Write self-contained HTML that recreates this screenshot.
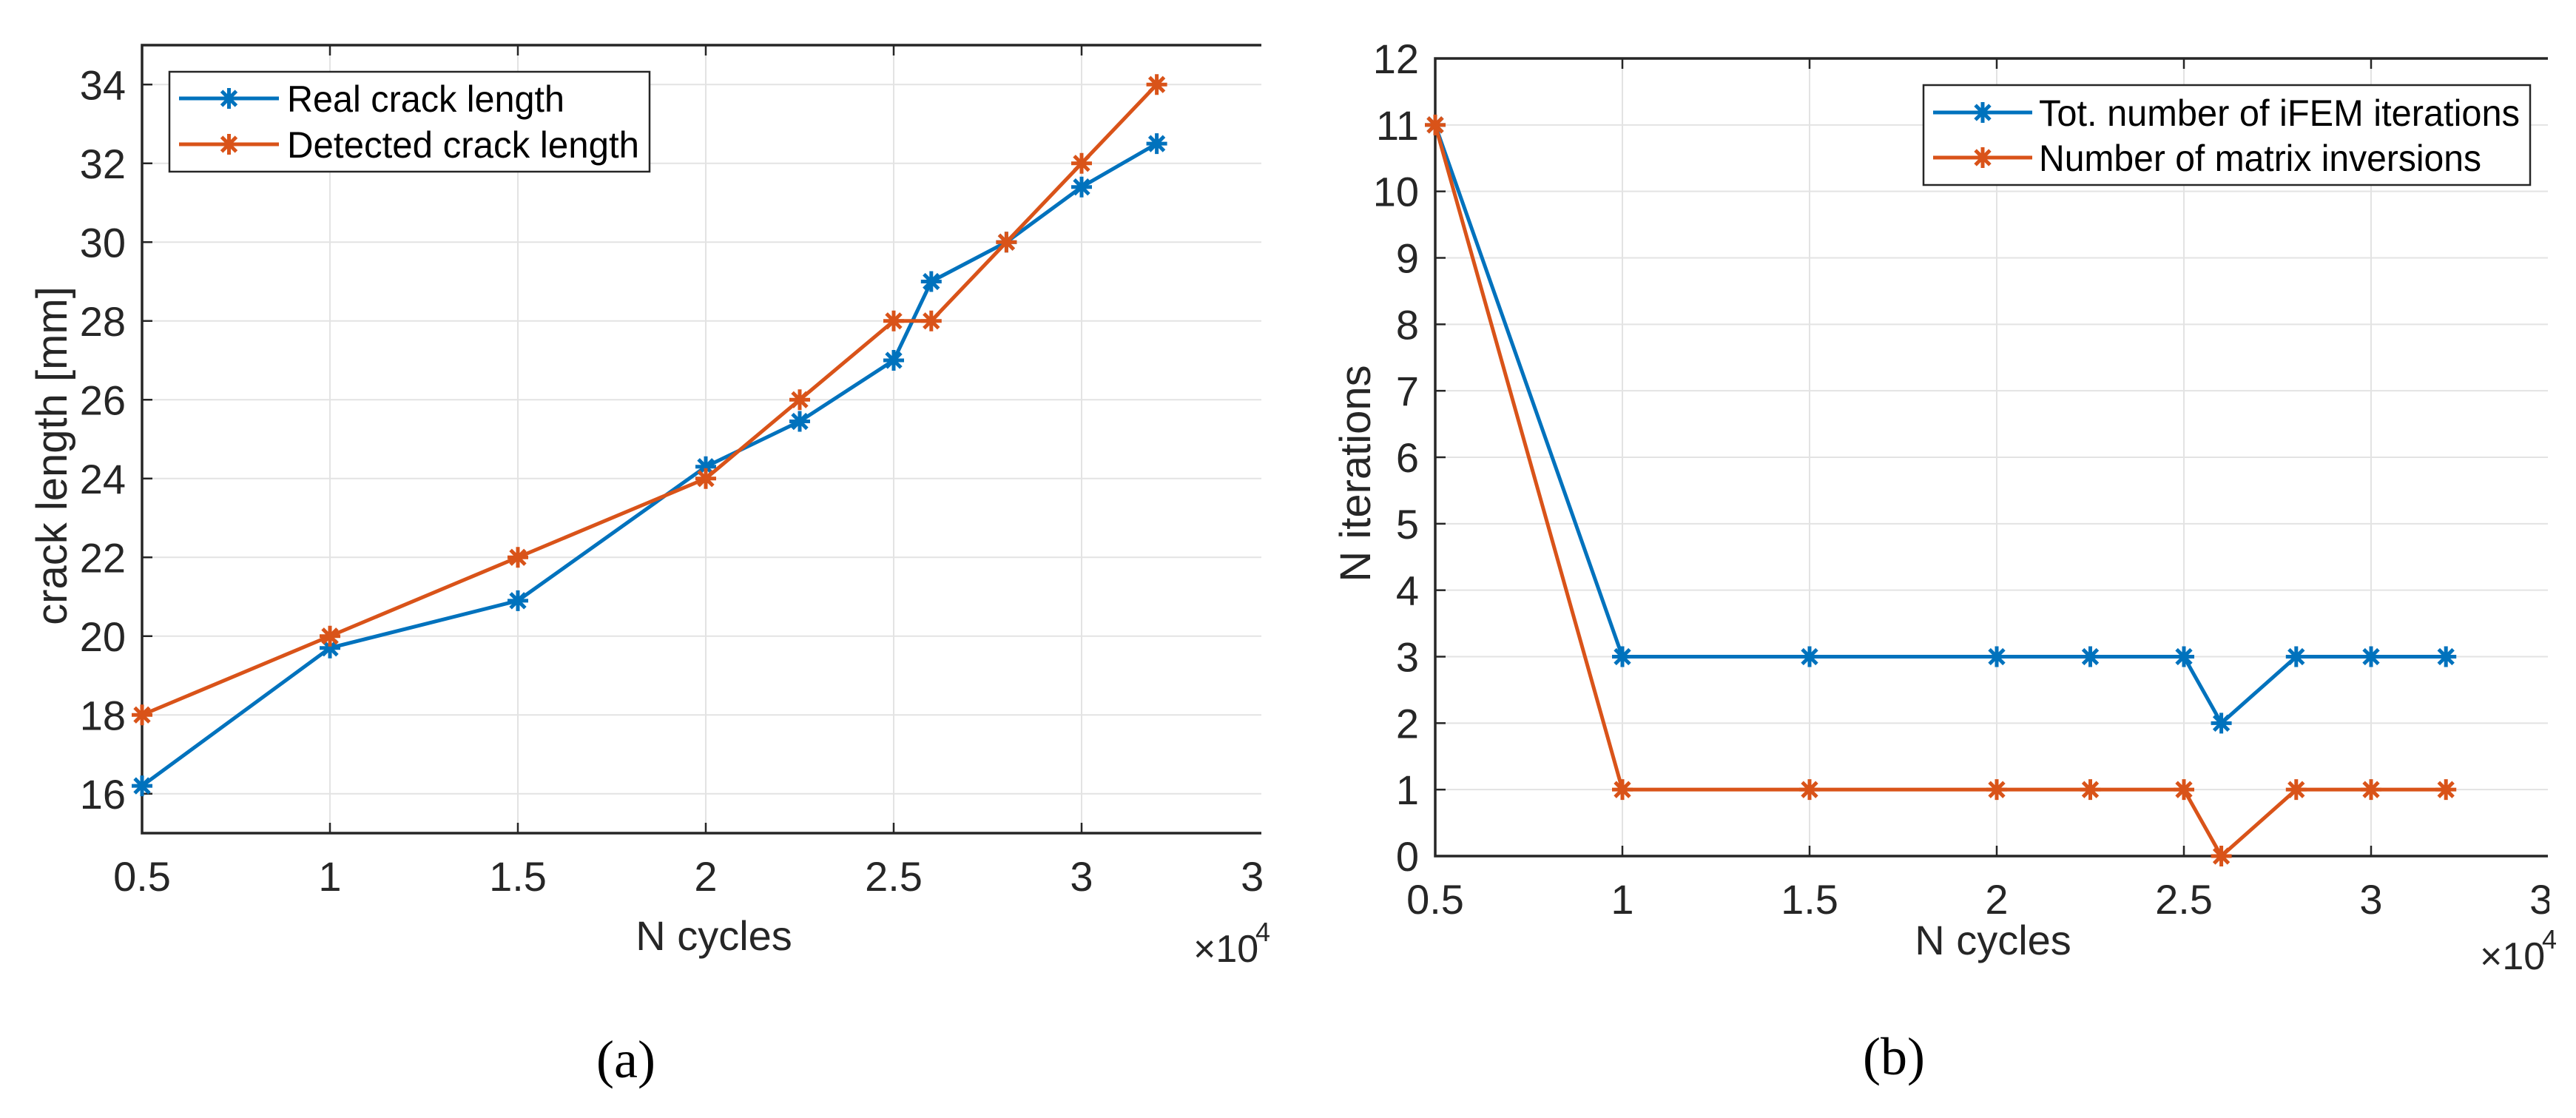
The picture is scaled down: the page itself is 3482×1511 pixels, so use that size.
<!DOCTYPE html>
<html><head><meta charset="utf-8"><style>
html,body{margin:0;padding:0;background:#fff;}
svg{display:block;}
text{font-family:"Liberation Sans",sans-serif;fill:#262626;}
</style></head><body>
<svg id="fig" width="3482" height="1511" viewBox="0 0 3482 1511" xmlns="http://www.w3.org/2000/svg">
<rect width="3482" height="1511" fill="#fff"/>
<g id="chartA"></g>
<g id="chartB"></g>
<text x="846" y="1456" font-size="72" text-anchor="middle" style="font-family:'Liberation Serif',serif;fill:#000">(a)</text>
<text x="2560" y="1452" font-size="72" text-anchor="middle" style="font-family:'Liberation Serif',serif;fill:#000">(b)</text>
</svg>
<script>
const cyclesA = [0.5, 1, 1.5, 2, 2.25, 2.5, 2.6, 2.8, 3, 3.2];
const realLength = [16.2, 19.7, 20.9, 24.3, 25.45, 27, 29, 30, 31.4, 32.5];
const detectedLength = [18, 20, 22, 24, 26, 28, 28, 30, 32, 34];
const xTicks = [0.5, 1, 1.5, 2, 2.5, 3, 3.5];
const xTickLabels = ["0.5", "1", "1.5", "2", "2.5", "3", "3.5"];
const yTicksA = [16, 18, 20, 22, 24, 26, 28, 30, 32, 34];
const cyclesB = [0.5, 1, 1.5, 2, 2.25, 2.5, 2.6, 2.8, 3, 3.2];
const totIterations = [11, 3, 3, 3, 3, 3, 2, 3, 3, 3];
const matrixInversions = [11, 1, 1, 1, 1, 1, 0, 1, 1, 1];
const yTicksB = [0, 1, 2, 3, 4, 5, 6, 7, 8, 9, 10, 11, 12];

const NS = "http://www.w3.org/2000/svg";
const BLUE = "#0072BD", ORANGE = "#D95319";
function mk(parent, tag, attrs, txt) {
  const e = document.createElementNS(NS, tag);
  for (const k in attrs) e.setAttribute(k, attrs[k]);
  if (txt !== undefined) e.textContent = txt;
  parent.appendChild(e);
  return e;
}
function drawChart(g, cfg) {
  const xs = v => cfg.left + (v - cfg.x0) / (cfg.x1 - cfg.x0) * (cfg.xEndFull - cfg.left);
  const ys = v => cfg.bottom - (v - cfg.y0) / (cfg.y1 - cfg.y0) * (cfg.bottom - cfg.top);
  cfg.xTicks.forEach((t, i) => {
    const x = xs(t);
    if (x > cfg.clipR) return;
    const gl = mk(g, "line", {x1: x, x2: x, y1: cfg.top, y2: cfg.bottom, stroke: "#e3e3e3", "stroke-width": 2});
    
    
  });
  cfg.yTicks.forEach(t => {
    const y = ys(t);
    const gl = mk(g, "line", {x1: cfg.left, x2: cfg.clipR, y1: y, y2: y, stroke: "#e3e3e3", "stroke-width": 2});
    
    
  });
  cfg.xTicks.forEach((t, i) => {
    const x = xs(t);
    if (x <= cfg.clipR) {
      const tk = mk(g, "line", {x1: x, x2: x, y1: cfg.bottom, y2: cfg.bottom - 14, stroke: "#262626", "stroke-width": 2.5});
      
      
      const tk2 = mk(g, "line", {x1: x, x2: x, y1: cfg.top, y2: cfg.top + 14, stroke: "#262626", "stroke-width": 2.5});
      
      
    }
    const lb = mk(g, "text", {x: x, y: cfg.bottom + 78, "font-size": 56, "text-anchor": "middle"}, cfg.xTickLabels[i]);
    
    
  });
  cfg.yTicks.forEach((t, i) => {
    const y = ys(t);
    const tk = mk(g, "line", {x1: cfg.left, x2: cfg.left + 14, y1: y, y2: y, stroke: "#262626", "stroke-width": 2.5});
    
    
    const lb = mk(g, "text", {x: cfg.left - 22, y: y + 20, "font-size": 56, "text-anchor": "end"}, String(t));
    
    
  });
  const ax = mk(g, "path", {d: `M${cfg.clipR},${cfg.top} H${cfg.left} V${cfg.bottom} H${cfg.clipR}`, fill: "none", stroke: "#262626", "stroke-width": 3.5});
  
  
  cfg.series.forEach(s => {
    const pts = cfg.xData.map((v, i) => `${xs(v)},${ys(s.values[i])}`).join(" ");
    const pl = mk(g, "polyline", {points: pts, fill: "none", stroke: s.color, "stroke-width": 5, "stroke-linejoin": "round"});
    
    
    cfg.xData.forEach((v, i) => {
      const m = star(g, xs(v), ys(s.values[i]), s.color, 14);
      
      
    });
  });
  const xl = mk(g, "text", {x: cfg.xLabelX, y: cfg.xLabelY, "font-size": 56, "text-anchor": "middle"}, "N cycles");
  
  
  const ex = mk(g, "text", {x: cfg.clipR - 92, y: cfg.expY, "font-size": 52}, "×10");
  
  
  const ex4 = mk(g, "text", {x: cfg.clipR - 8, y: cfg.expY - 28, "font-size": 36}, "4");
  
  
  const yl = mk(g, "text", {x: 0, y: 0, "font-size": 58, "text-anchor": "middle", transform: `translate(${cfg.yLabelX},${cfg.yLabelY}) rotate(-90)`}, cfg.yLabel);
  
  
  const L = cfg.legend;
  const lg = mk(g, "g", {});
  
  
  const box = mk(lg, "rect", {x: L.x, y: L.y, width: L.w, height: L.h, fill: "#fff", stroke: "#262626", "stroke-width": 2.5});
  
  
  cfg.series.forEach((s, i) => {
    const y = L.rows[i];
    const e = mk(lg, "g", {});
    
    
    mk(e, "line", {x1: L.lx1, x2: L.lx2, y1: y, y2: y, stroke: s.color, "stroke-width": 5});
    star(e, (L.lx1 + L.lx2) / 2, y, s.color, 14);
    mk(e, "text", {x: L.tx, y: y + 18, "font-size": 50, textLength: s.tlen, lengthAdjust: "spacingAndGlyphs", style: "fill:#000"}, s.label);
  });
}
function star(parent, cx, cy, color, r) {
  const d = r * 0.7071;
  return mk(parent, "path", {d: `M${cx - r},${cy}H${cx + r}M${cx},${cy - r}V${cy + r}M${cx - d},${cy - d}L${cx + d},${cy + d}M${cx - d},${cy + d}L${cx + d},${cy - d}`, stroke: color, "stroke-width": 5, fill: "none"});
}
drawChart(document.getElementById("chartA"), {
  left: 192, top: 61, bottom: 1126, clipR: 1705,
  x0: 0.5, x1: 3.5, xEndFull: 192 + 6 * 254,
  y0: 15, y1: 35,
  xTicks: xTicks, xTickLabels: xTickLabels, yTicks: yTicksA, xData: cyclesA,
  xLabelX: 965, xLabelY: 1284, expY: 1300,
  yLabel: "crack length [mm]", yLabelX: 90, yLabelY: 616,
  series: [
    {name: "real-crack-length", values: realLength, color: BLUE, label: "Real crack length", tlen: 375},
    {name: "detected-crack-length", values: detectedLength, color: ORANGE, label: "Detected crack length", tlen: 476}
  ],
  legend: {x: 229, y: 97, w: 649, h: 135, rows: [133, 195], lx1: 242, lx2: 377, tx: 388}
});
drawChart(document.getElementById("chartB"), {
  left: 1940, top: 79, bottom: 1157, clipR: 3444,
  x0: 0.5, x1: 3.5, xEndFull: 1940 + 6 * 253,
  y0: 0, y1: 12,
  xTicks: xTicks, xTickLabels: xTickLabels, yTicks: yTicksB, xData: cyclesB,
  xLabelX: 2694, xLabelY: 1290, expY: 1310,
  yLabel: "N iterations", yLabelX: 1852, yLabelY: 640,
  series: [
    {name: "tot-ifem-iterations", values: totIterations, color: BLUE, label: "Tot. number of iFEM iterations", tlen: 650},
    {name: "matrix-inversions", values: matrixInversions, color: ORANGE, label: "Number of matrix inversions", tlen: 598}
  ],
  legend: {x: 2600, y: 115, w: 820, h: 135, rows: [152, 213], lx1: 2613, lx2: 2747, tx: 2756}
});
[[1707, 1790], [3446, 3482]].forEach(r => {
  const m = mk(document.getElementById("fig"), "rect", {x: r[0], y: 0, width: r[1] - r[0], height: 1240, fill: "#fff"});
  
  
});
</script>
</body></html>
